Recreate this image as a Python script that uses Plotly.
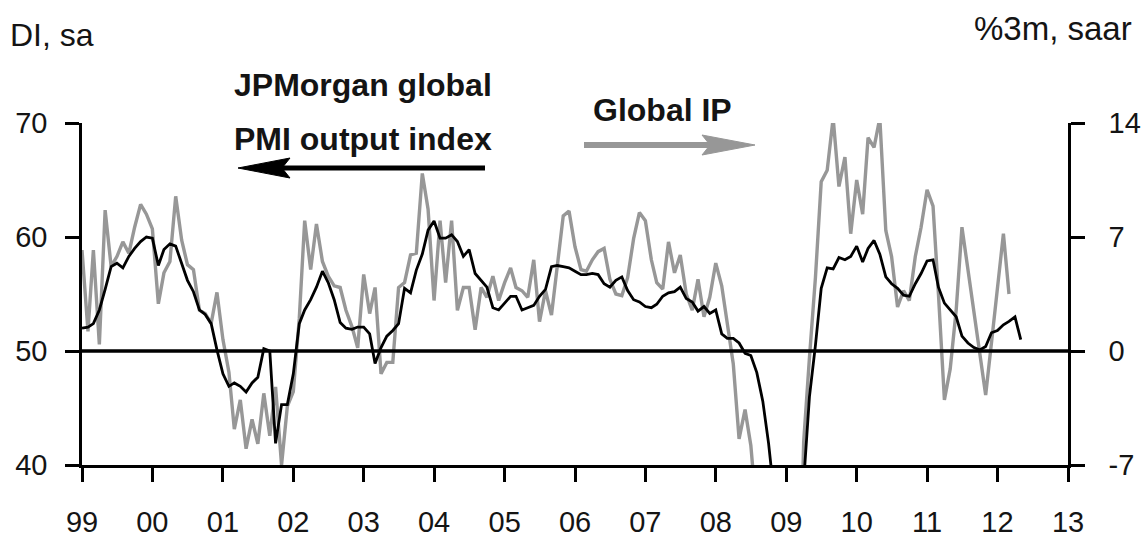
import plotly.graph_objects as go
import pandas as pd

# ---------------- data ----------------
months = pd.date_range("1999-01-01", periods=161, freq="MS")

pmi = [52.0, 52.1, 52.4, 53.6, 55.4, 57.4, 57.7, 57.3, 58.3, 59.0, 59.6, 60.0,
       59.9, 57.5, 58.9, 59.4, 59.2, 57.7, 56.2, 55.2, 53.6, 53.2, 52.4, 50.1,
       48.0, 46.9, 47.2, 46.9, 46.4, 47.2, 47.7, 50.2, 50.0, 41.9, 45.3, 45.3,
       48.0, 52.4, 53.6, 54.5, 55.6, 57.0, 56.0, 54.5, 52.5, 52.0, 51.9, 52.1,
       52.1, 51.5, 48.9, 50.3, 51.3, 51.8, 52.4, 55.5, 55.1, 57.1, 58.5, 60.6,
       61.4, 59.9, 59.9, 60.2, 59.6, 58.3, 58.9, 56.8, 56.2, 55.6, 53.8, 53.6,
       54.2, 54.8, 54.8, 53.6, 53.8, 54.0, 54.8, 55.4, 57.4, 57.5, 57.4, 57.3,
       57.0, 56.7, 56.7, 56.8, 56.7, 55.9, 55.6, 56.2, 56.5, 55.3, 54.5, 54.3,
       53.9, 53.8, 54.1, 54.8, 55.1, 55.2, 55.6, 54.6, 54.3, 53.5, 53.9, 53.3,
       53.6, 51.5, 51.1, 51.1, 50.7, 49.8, 49.6, 48.1, 45.6, 41.9, 37.0, 34.5,
       33.5, 34.5, 36.5, 38.5, 46.0, 50.5, 55.5, 57.3, 57.2, 58.2, 58.0, 58.3,
       59.2, 57.8, 59.0, 59.7, 58.5, 56.5, 55.9, 55.5, 54.9, 54.8, 55.9, 56.8,
       57.9, 58.0, 55.6, 54.2, 53.6, 53.0, 51.3, 50.7, 50.3, 50.1, 50.4, 51.6,
       51.8, 52.3, 52.6, 53.0, 51.0]

ip = [6.2, 1.2, 6.2, 0.4, 8.65, 5.2, 5.8, 6.7, 6.0, 7.6, 9.0, 8.4,
      7.5, 2.9, 4.8, 5.5, 9.5, 6.8, 5.3, 5.0, 2.5, 2.3, 1.7, 3.6,
      0.7, -1.3, -4.8, -3.0, -6.0, -4.2, -5.7, -2.6, -5.2, -2.2, -7.0, -3.4,
      -2.5, 2.0, 8.0, 5.0, 7.8, 5.5, 4.6, 4.0, 3.9, 2.5, 1.5, 0.2,
      4.7, 2.3, 3.9, -1.4, -0.7, -0.7, 3.9, 4.2, 5.9, 6.0, 10.9, 8.7,
      3.1, 8.0, 4.2, 8.0, 2.5, 3.9, 3.9, 1.3, 3.9, 3.3, 4.6, 3.1,
      4.2, 5.1, 3.9, 3.7, 3.3, 5.6, 1.8, 3.7, 2.2, 5.0, 8.3, 8.6,
      6.4, 5.0, 4.9, 5.6, 6.1, 6.3, 4.4, 3.5, 3.4, 4.5, 6.9, 8.5,
      8.0, 5.6, 4.2, 3.8, 6.7, 4.8, 5.9, 3.5, 2.5, 4.4, 2.1, 3.3,
      5.4, 4.0, 1.7, -0.8, -5.4, -3.6, -5.8, -10.0, -16.0, -22.0, -26.0, -27.0,
      -26.0, -24.0, -20.0, -5.6, -0.4, 4.5, 10.4, 11.1, 14.3, 10.1, 11.9, 7.2,
      10.5, 8.4, 13.1, 12.5, 14.3, 7.4, 5.8, 2.7, 3.7, 3.1, 5.8, 7.6,
      9.9, 8.9, 3.5, -3.0, -1.1, 2.5, 7.6, 5.0, 2.4, -0.2, -2.7, 0.5,
      4.0, 7.2, 3.5]

ip_months = months[:len(ip)]

year_ticks = pd.date_range("1999-01-01", "2013-01-01", freq="YS")
year_labels = ["99", "00", "01", "02", "03", "04", "05", "06",
               "07", "08", "09", "10", "11", "12", "13"]
pmi_ticks = [40, 50, 60, 70]
pmi_labels = ["40", "50", "60", "70"]
ip_ticks = [-7, 0, 7, 14]
ip_labels = ["-7", "0", "7", "14"]

# ---------------- layout helpers ----------------
W, H = 1141, 541
L, R, T, B = 82, 1068, 123, 465   # plot area in pixels


def px(x):
    return (x - L) / (R - L)


def py(y):
    return (B - y) / (B - T)


FONT = "Liberation Sans, Arial, sans-serif"
TXT = "#141414"
GRAY = "#979797"

fig = go.Figure()
fig.add_trace(go.Scatter(x=ip_months, y=ip, mode="lines", yaxis="y",
                         line=dict(color=GRAY, width=3.4), name="Global IP"))
fig.add_trace(go.Scatter(x=months, y=pmi, mode="lines", yaxis="y2",
                         line=dict(color="#000000", width=2.8),
                         name="JPMorgan global PMI output index"))

tick_common = dict(ticks="outside", ticklen=14, tickwidth=2.5, tickcolor="#000",
                   showline=True, linecolor="#000", showgrid=False,
                   zeroline=False, automargin=False,
                   tickfont=dict(family=FONT, size=29, color=TXT))

fig.update_layout(
    width=W, height=H, autosize=False,
    margin=dict(l=L, r=W - R, t=T, b=H - B, pad=0, autoexpand=False),
    paper_bgcolor="white", plot_bgcolor="white",
    showlegend=False,
    xaxis=dict(type="date", range=["1999-01-01", "2013-01-01"],
               tickmode="array", tickvals=year_ticks, ticktext=year_labels,
               linewidth=3, ticklabelstandoff=15, **tick_common),
    yaxis=dict(range=[-7, 14], side="right", tickmode="array",
               tickvals=ip_ticks, ticktext=ip_labels, linewidth=2.5,
               ticklabelstandoff=18, **tick_common),
    yaxis2=dict(range=[40, 70], side="left", overlaying="y", tickmode="array",
                tickvals=pmi_ticks, ticktext=pmi_labels, linewidth=2.5,
                ticklabelstandoff=12, **tick_common),
)

# 50 / 0 reference line
fig.add_shape(type="line", xref="paper", x0=0, x1=1, yref="y2", y0=50, y1=50,
              line=dict(color="#000", width=3.5), layer="above")

# arrows
fig.add_shape(type="line", xref="paper", yref="paper",
              x0=px(485), x1=px(282), y0=py(168), y1=py(168),
              line=dict(color="#000", width=5))
fig.add_shape(type="path", xref="paper", yref="paper",
              path=f"M{px(238)},{py(168)} L{px(290)},{py(158)} L{px(282)},{py(168)} "
                   f"L{px(290)},{py(178)} Z",
              fillcolor="#000", line=dict(color="#000", width=1))
fig.add_shape(type="line", xref="paper", yref="paper",
              x0=px(584), x1=px(710), y0=py(145), y1=py(145),
              line=dict(color=GRAY, width=6))
fig.add_shape(type="path", xref="paper", yref="paper",
              path=f"M{px(755)},{py(145)} L{px(702)},{py(135)} L{px(710)},{py(145)} "
                   f"L{px(702)},{py(155)} Z",
              fillcolor=GRAY, line=dict(color=GRAY, width=1))

ann = dict(xref="paper", yref="paper", showarrow=False)
fig.add_annotation(text="DI, sa", x=px(8), y=py(35), xanchor="left",
                   yanchor="middle", font=dict(family=FONT, size=32, color=TXT), **ann)
fig.add_annotation(text="%3m, saar", x=px(1134), y=py(28), xanchor="right",
                   yanchor="middle", font=dict(family=FONT, size=33, color=TXT), **ann)
fig.add_annotation(text="JPMorgan global", x=px(363), y=py(85), xanchor="center",
                   yanchor="middle",
                   font=dict(family=FONT, size=32, color=TXT, weight="bold"), **ann)
fig.add_annotation(text="PMI output index", x=px(363), y=py(139), xanchor="center",
                   yanchor="middle",
                   font=dict(family=FONT, size=32, color=TXT, weight="bold"), **ann)
fig.add_annotation(text="Global IP", x=px(662), y=py(110), xanchor="center",
                   yanchor="middle",
                   font=dict(family=FONT, size=32, color=TXT, weight="bold"), **ann)

fig.write_html("out.html",
               config={"displayModeBar": False},
               post_script="document.body.style.margin='0';"
                           "document.body.style.overflow='hidden';")
